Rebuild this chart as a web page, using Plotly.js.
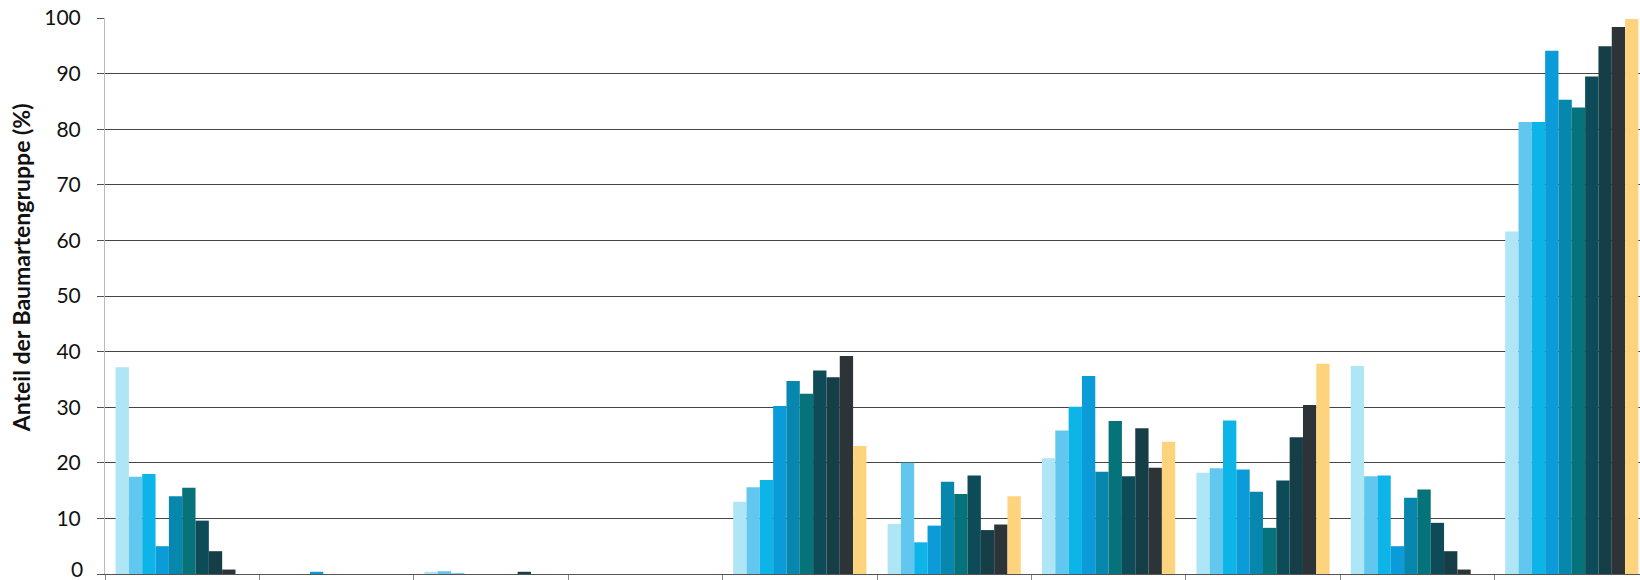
<!DOCTYPE html>
<html>
<head>
<meta charset="utf-8">
<script src="https://cdn.plot.ly/plotly-3.0.1.min.js"></script>
<style>html,body{margin:0;padding:0;background:#fff;}#chart{width:1640px;height:580px;}</style>
</head>
<body>
<div id="chart"></div>
<script>
// Categories (x-axis labels are cut off in the reference)
const categories = ['Gruppe 1','Gruppe 2','Gruppe 3','Gruppe 4','Gruppe 5','Gruppe 6','Gruppe 7','Gruppe 8','Gruppe 9','Gruppe 10'];
const seriesNames = ['Reihe 1','Reihe 2','Reihe 3','Reihe 4','Reihe 5','Reihe 6','Reihe 7','Reihe 8','Reihe 9','Reihe 10'];
const yTickValues = [0,10,20,30,40,50,60,70,80,90,100];
const yTitle = 'Anteil der Baumartengruppe (%)';

const s1  = [37.2, 0,   0.4, 0, 13.0,  9.0, 20.8, 18.2, 37.4, 61.6];
const s2  = [17.5, 0,   0.5, 0, 15.6, 20.0, 25.8, 19.0, 17.6, 81.3];
const s3  = [18.0, 0,   0.1, 0, 16.9,  5.7, 30.1, 27.6, 17.7, 81.3];
const s4  = [ 5.0, 0.4, 0,   0, 30.2,  8.7, 35.6, 18.8,  5.0, 94.1];
const s5  = [14.0, 0,   0,   0, 34.7, 16.6, 18.4, 14.8, 13.7, 85.3];
const s6  = [15.5, 0,   0,   0, 32.4, 14.4, 27.5,  8.3, 15.2, 83.9];
const s7  = [ 9.6, 0,   0,   0, 36.6, 17.7, 17.6, 16.8,  9.2, 89.5];
const s8  = [ 4.1, 0,   0.4, 0, 35.4,  7.9, 26.2, 24.6,  4.1, 94.9];
const s9  = [ 0.8, 0,   0,   0, 39.2,  8.9, 19.1, 30.4,  0.8, 98.4];
const s10 = [ 0,   0,   0,   0, 23.0, 14.0, 23.8, 37.8,  0,   99.8];

const seriesValues = [s1,s2,s3,s4,s5,s6,s7,s8,s9,s10];
const colors = ['#aee6f6','#62c7ee','#0db4e8','#0a9bd8','#0787ae','#06727a','#0c4b57','#163e46','#2c3438','#fdd47d'];

const traces = seriesValues.map((vals, i) => ({
  type: 'bar',
  name: seriesNames[i],
  x: categories,
  y: vals,
  marker: {color: colors[i], line: {width: 0}},
  hoverinfo: 'x+y+name'
}));

const plotW = 1640 - 105;
const groupW = 154.4;
const tickFont = {size: 21, color: '#111', family: 'Lato, "Open Sans", sans-serif'};

const layout = {
  width: 1640,
  height: 580,
  margin: {l: 105, r: 0, t: 18, b: 6},
  paper_bgcolor: '#ffffff',
  plot_bgcolor: '#ffffff',
  barmode: 'group',
  bargap: 0.137,
  bargroupgap: 0,
  showlegend: false,
  font: {family: 'Lato, "Open Sans", sans-serif', color: '#111'},
  xaxis: {
    type: 'category',
    range: [-0.5, -0.5 + plotW / groupW],
    showticklabels: false,
    showgrid: false,
    zeroline: false,
    showline: true,
    linecolor: '#555',
    linewidth: 1,
    ticks: 'outside',
    tickson: 'boundaries',
    ticklen: 5,
    tickcolor: '#888',
    fixedrange: true
  },
  yaxis: {
    range: [0, 100],
    tickvals: yTickValues,
    // the 0 label sits on the bottom edge of the picture; drawn as an annotation below
    ticktext: yTickValues.map(v => v === 0 ? '' : String(v)),
    showgrid: true,
    gridcolor: '#444',
    gridwidth: 1,
    zeroline: false,
    showline: true,
    linecolor: '#bbb',
    linewidth: 1,
    ticks: 'outside',
    ticklen: 7,
    tickcolor: '#555',
    ticklabelstandoff: 12,
    tickfont: tickFont,
    fixedrange: true
  },
  annotations: [{
    text: '<b>' + yTitle + '</b>',
    xref: 'paper', yref: 'paper',
    x: (21 - 105) / plotW, y: 0.55,
    xanchor: 'center', yanchor: 'middle',
    textangle: -90,
    showarrow: false,
    font: {size: 23, color: '#111', family: 'Lato, "Open Sans", sans-serif'}
  }, {
    text: String(yTickValues[0]),
    xref: 'paper', yref: 'y',
    x: 0, y: yTickValues[0],
    xanchor: 'right', yanchor: 'bottom',
    xshift: -20, yshift: -9,
    showarrow: false,
    font: tickFont
  }]
};

Plotly.newPlot('chart', traces, layout, {displayModeBar: false, staticPlot: true});
</script>
</body>
</html>
